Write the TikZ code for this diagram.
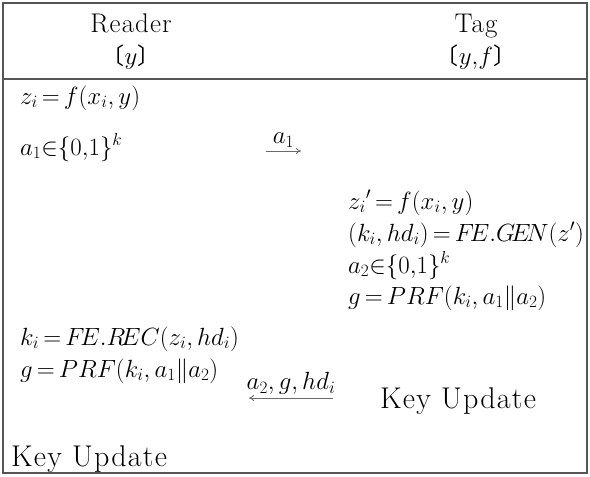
\documentclass[tikz,border=0pt]{standalone}
\usepackage{amsmath,amssymb}
\usepackage{fontspec}
\usepackage{tikz}
\usetikzlibrary{arrows.meta,positioning}
\newfontfamily\cjk{Noto Sans CJK SC}
\newfontfamily\widefont[LetterSpace=4]{Latin Modern Roman}
\newcommand{\headfont}{\widefont\fontsize{27}{31}\selectfont}
\newcommand{\keyfont}{\widefont\fontsize{30}{34}\selectfont}
\newcommand{\eqnfont}{\fontsize{23}{27}\selectfont\thickmuskip=3mu plus 2mu\medmuskip=3mu}
\newcommand{\brk}[1]{{\cjk\fontsize{23}{27}\selectfont 〔}#1{\cjk\fontsize{23}{27}\selectfont 〕}}
\definecolor{frame}{HTML}{555555}
\definecolor{msgline}{HTML}{6A6A6A}

\begin{document}
\begin{tikzpicture}[x=1pt,y=-1pt,
    head/.style={anchor=base,inner sep=0pt,font=\headfont},
    eqn/.style={anchor=base west,inner sep=0pt,font=\eqnfont},
    keyupd/.style={anchor=base west,inner sep=0pt,font=\keyfont},
    msg/.style={draw=msgline,line width=0.8pt,-{To[length=5pt,width=6pt]}}]
      \useasboundingbox (0,0) rectangle (590,477);
      \draw[frame,line width=1.6pt] (3,3) rectangle (587,473);
      \draw[frame,line width=1.6pt] (3,79) -- (587,79);
      % header
      \node[head] (reader) at (131,32) {Reader};
      \node[head] (readerkey) at (131,64) {\brk{$y$}};
      \node[head] (tag) at (476,32) {Tag};
      \node[head] (tagkey) at (476,64) {\brk{$y{,}f$}};
      % reader side
      \node[eqn] (rz) at (20,104) {$z_i=f(x_i,y)$};
      \node[eqn] (ra) at (20,155) {$a_1{\in}\{0{,}1\}^k$};
      \node[eqn] (rk) at (20,345) {$k_i=F\!E.R\!EC(z_i,hd_i)$};
      \node[eqn] (rg) at (20,377) {$g=PRF(k_i,a_1\|a_2)$};
      \node[keyupd] (rupd) at (11,466) {Key Update};
      % tag side
      \node[eqn] (tz) at (348,209) {$z_i{}'=f(x_i,y)$};
      \node[eqn] (tk) at (348,241) {$(k_i,hd_i)=F\!E.G\!E\!N(z')$};
      \node[eqn] (ta) at (348,273) {$a_2{\in}\{0{,}1\}^k$};
      \node[eqn] (tg) at (348,304) {$g=PRF(k_i,a_1\|a_2)$};
      \node[keyupd] (tupd) at (380,408) {Key Update};
      % messages
      \coordinate (m1a) at (266,151);
      \coordinate (m1b) at (301,151);
      \coordinate (m2a) at (333,398);
      \coordinate (m2b) at (249,398);
      \draw[msg] (m1a) -- node[above=3pt,inner sep=0pt,font=\eqnfont] (m1) {$a_1$} (m1b);
      \draw[msg] (m2a) -- node[above=3pt,inner sep=0pt,font=\eqnfont] (m2) {$a_2,g,hd_i$} (m2b);
    \end{tikzpicture}
\end{document}
